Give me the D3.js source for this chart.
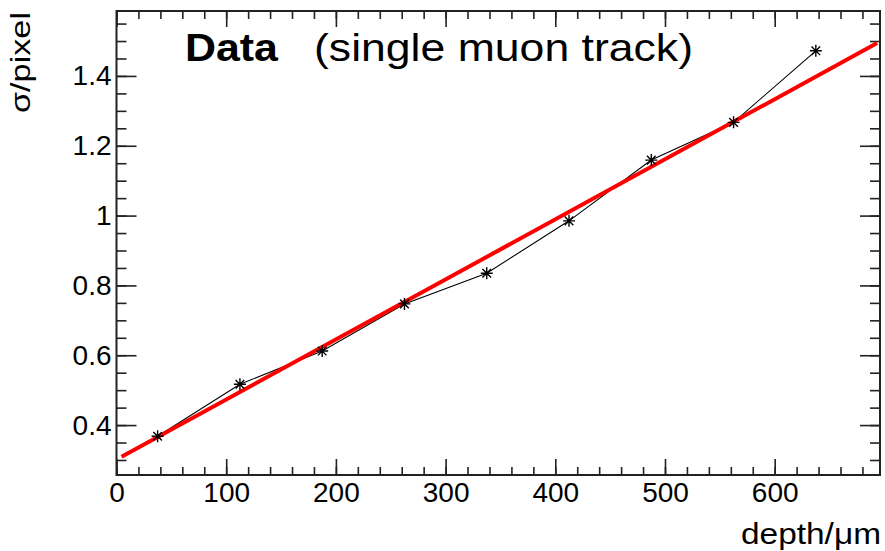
<!DOCTYPE html>
<html>
<head>
<meta charset="utf-8">
<script src="https://cdn.jsdelivr.net/npm/d3@7"></script>
<style>
  html, body { margin: 0; padding: 0; background: #fff; }
  svg { display: block; }
  text { font-family: "Liberation Sans", Arial, Helvetica, sans-serif; fill: #000; }
</style>
</head>
<body>
<svg id="chart" width="885" height="551"></svg>
<script>
// Measured resolution versus depth, single muon track
const depth = [37.5, 112.5, 187.5, 262.5, 337.5, 412.5, 487.5, 562.5, 637.5];
const sigma = [0.368, 0.517, 0.612, 0.747, 0.835, 0.985, 1.159, 1.267, 1.472];

// Straight-line fit, drawn between its two end points
const fitDepth = [4.6, 693.4];
const fitSigma = [0.309, 1.494];

// Axis ticks and labels
const xMajor = [0, 100, 200, 300, 400, 500, 600];
const xMajorLabels = ["0", "100", "200", "300", "400", "500", "600"];
const xMinor = d3.range(0, 700, 20);
const yMajor = [0.4, 0.6, 0.8, 1.0, 1.2, 1.4];
const yMajorLabels = ["0.4", "0.6", "0.8", "1", "1.2", "1.4"];
const yMinor = d3.range(0.30, 1.58, 0.05).map(v => +v.toFixed(2));

const xDomain = [0, 696];
const yDomain = [0.257, 1.586];

const frame = { left: 116.5, right: 880, top: 11, bottom: 475 };

const svg = d3.select("#chart");

const x = d3.scaleLinear().domain(xDomain).range([frame.left, frame.right]);
const y = d3.scaleLinear().domain(yDomain).range([frame.bottom, frame.top]);

const axisColor = "#222";
const fontSize = 28;

function styleAxis(g) {
  g.select(".domain").remove();
  g.selectAll(".tick line").attr("stroke", axisColor).attr("stroke-width", 1.6);
  g.selectAll(".tick text")
    .attr("fill", "#000")
    .style("font-family", '"Liberation Sans", Arial, Helvetica, sans-serif')
    .style("font-size", fontSize + "px");
}

// Bottom axis: inward ticks, labels below
svg.append("g").attr("transform", `translate(0,${frame.bottom})`)
  .call(d3.axisBottom(x).tickValues(xMinor).tickSize(-8).tickFormat(""))
  .call(styleAxis);
svg.append("g").attr("transform", `translate(0,${frame.bottom})`)
  .call(d3.axisBottom(x).tickValues(xMajor).tickSize(-16).tickPadding(7)
    .tickFormat((d, i) => xMajorLabels[i]))
  .call(styleAxis)
  .call(g => g.selectAll(".tick text").attr("dy", null).attr("y", 27.3));

// Top axis: inward ticks only
svg.append("g").attr("transform", `translate(0,${frame.top})`)
  .call(d3.axisTop(x).tickValues(xMinor).tickSize(-8).tickFormat(""))
  .call(styleAxis);
svg.append("g").attr("transform", `translate(0,${frame.top})`)
  .call(d3.axisTop(x).tickValues(xMajor).tickSize(-16).tickFormat(""))
  .call(styleAxis);

// Left axis: inward ticks, labels to the left
svg.append("g").attr("transform", `translate(${frame.left},0)`)
  .call(d3.axisLeft(y).tickValues(yMinor).tickSize(-10).tickFormat(""))
  .call(styleAxis);
svg.append("g").attr("transform", `translate(${frame.left},0)`)
  .call(d3.axisLeft(y).tickValues(yMajor).tickSize(-20).tickPadding(5)
    .tickFormat((d, i) => yMajorLabels[i]))
  .call(styleAxis);

// Right axis: inward ticks only
svg.append("g").attr("transform", `translate(${frame.right},0)`)
  .call(d3.axisRight(y).tickValues(yMinor).tickSize(-10).tickFormat(""))
  .call(styleAxis);
svg.append("g").attr("transform", `translate(${frame.right},0)`)
  .call(d3.axisRight(y).tickValues(yMajor).tickSize(-20).tickFormat(""))
  .call(styleAxis);

// Frame
svg.append("rect")
  .attr("x", frame.left).attr("y", frame.top)
  .attr("width", frame.right - frame.left).attr("height", frame.bottom - frame.top)
  .attr("fill", "none").attr("stroke", axisColor).attr("stroke-width", 2);

// Data polyline
const pts = depth.map((d, i) => [d, sigma[i]]);
svg.append("path")
  .datum(pts)
  .attr("fill", "none")
  .attr("stroke", "#000")
  .attr("stroke-width", 1.1)
  .attr("d", d3.line().x(d => x(d[0])).y(d => y(d[1])));

// Fit line
const fitPts = fitDepth.map((d, i) => [d, fitSigma[i]]);
svg.append("path")
  .datum(fitPts)
  .attr("fill", "none")
  .attr("stroke", "#ff0000")
  .attr("stroke-width", 4)
  .attr("d", d3.line().x(d => x(d[0])).y(d => y(d[1])));

// Asterisk markers
const r = 6, rd = r * 0.72;
const star = `M${-r},0L${r},0M0,${-r}L0,${r}M${-rd},${-rd}L${rd},${rd}M${-rd},${rd}L${rd},${-rd}`;
svg.append("g").selectAll("path.marker")
  .data(pts)
  .join("path")
  .attr("class", "marker")
  .attr("transform", d => `translate(${x(d[0])},${y(d[1])})`)
  .attr("d", star)
  .attr("fill", "none")
  .attr("stroke", "#000")
  .attr("stroke-width", 1.4);

// Titles
svg.append("text")
  .attr("x", 185).attr("y", 61)
  .attr("textLength", 93).attr("lengthAdjust", "spacingAndGlyphs")
  .style("font-size", "39px").style("font-weight", "bold")
  .text("Data");
svg.append("text")
  .attr("x", 314).attr("y", 61)
  .attr("textLength", 379).attr("lengthAdjust", "spacingAndGlyphs")
  .style("font-size", "39px")
  .text("(single muon track)");

// Axis titles
svg.append("text")
  .attr("transform", "translate(29.5,113) rotate(-90)")
  .attr("textLength", 101).attr("lengthAdjust", "spacingAndGlyphs")
  .style("font-size", "27px")
  .text("σ/pixel");
svg.append("text")
  .attr("x", 741).attr("y", 544)
  .attr("textLength", 140).attr("lengthAdjust", "spacingAndGlyphs")
  .style("font-size", "29px")
  .text("depth/μm");
</script>
</body>
</html>
